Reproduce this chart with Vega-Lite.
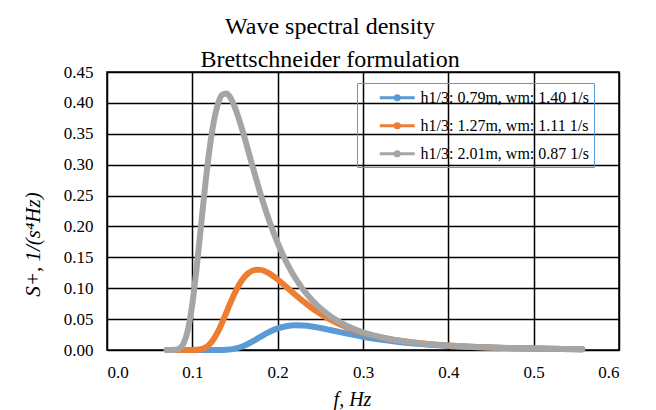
{
  "$schema": "https://vega.github.io/schema/vega-lite/v6.json",
  "autosize": {"type": "none"},
  "padding": {"left": 107, "top": 72, "right": 37, "bottom": 60},
  "width": 512,
  "height": 278,
  "background": "white",
  "title": {
    "text": ["Wave spectral density", "Brettschneider formulation"],
    "font": "Liberation Serif",
    "fontSize": 24,
    "fontWeight": "normal",
    "color": "black",
    "anchor": "middle",
    "frame": "group",
    "dx": -33,
    "dy": 3,
    "lineHeight": 33,
    "offset": -6
  },
  "data": {
    "values": [
      {"f": 0.07, "S": 0, "series": "h1/3: 0.79m, wm: 1.40 1/s"},
      {"f": 0.09, "S": 0, "series": "h1/3: 0.79m, wm: 1.40 1/s"},
      {"f": 0.11, "S": 0, "series": "h1/3: 0.79m, wm: 1.40 1/s"},
      {"f": 0.12, "S": 0, "series": "h1/3: 0.79m, wm: 1.40 1/s"},
      {"f": 0.13, "S": 0.00004, "series": "h1/3: 0.79m, wm: 1.40 1/s"},
      {"f": 0.14, "S": 0.0005, "series": "h1/3: 0.79m, wm: 1.40 1/s"},
      {"f": 0.15, "S": 0.0023, "series": "h1/3: 0.79m, wm: 1.40 1/s"},
      {"f": 0.16, "S": 0.0066, "series": "h1/3: 0.79m, wm: 1.40 1/s"},
      {"f": 0.17, "S": 0.0135, "series": "h1/3: 0.79m, wm: 1.40 1/s"},
      {"f": 0.18, "S": 0.0215, "series": "h1/3: 0.79m, wm: 1.40 1/s"},
      {"f": 0.19, "S": 0.0291, "series": "h1/3: 0.79m, wm: 1.40 1/s"},
      {"f": 0.20, "S": 0.0349, "series": "h1/3: 0.79m, wm: 1.40 1/s"},
      {"f": 0.21, "S": 0.0384, "series": "h1/3: 0.79m, wm: 1.40 1/s"},
      {"f": 0.22, "S": 0.0399, "series": "h1/3: 0.79m, wm: 1.40 1/s"},
      {"f": 0.23, "S": 0.0395, "series": "h1/3: 0.79m, wm: 1.40 1/s"},
      {"f": 0.24, "S": 0.0380, "series": "h1/3: 0.79m, wm: 1.40 1/s"},
      {"f": 0.25, "S": 0.0356, "series": "h1/3: 0.79m, wm: 1.40 1/s"},
      {"f": 0.26, "S": 0.0328, "series": "h1/3: 0.79m, wm: 1.40 1/s"},
      {"f": 0.27, "S": 0.0299, "series": "h1/3: 0.79m, wm: 1.40 1/s"},
      {"f": 0.28, "S": 0.0269, "series": "h1/3: 0.79m, wm: 1.40 1/s"},
      {"f": 0.30, "S": 0.0215, "series": "h1/3: 0.79m, wm: 1.40 1/s"},
      {"f": 0.32, "S": 0.0170, "series": "h1/3: 0.79m, wm: 1.40 1/s"},
      {"f": 0.34, "S": 0.0134, "series": "h1/3: 0.79m, wm: 1.40 1/s"},
      {"f": 0.36, "S": 0.0105, "series": "h1/3: 0.79m, wm: 1.40 1/s"},
      {"f": 0.40, "S": 0.0066, "series": "h1/3: 0.79m, wm: 1.40 1/s"},
      {"f": 0.45, "S": 0.0039, "series": "h1/3: 0.79m, wm: 1.40 1/s"},
      {"f": 0.50, "S": 0.0023, "series": "h1/3: 0.79m, wm: 1.40 1/s"},
      {"f": 0.557, "S": 0.0014, "series": "h1/3: 0.79m, wm: 1.40 1/s"},
      {"f": 0.07, "S": 0, "series": "h1/3: 1.27m, wm: 1.11 1/s"},
      {"f": 0.08, "S": 0, "series": "h1/3: 1.27m, wm: 1.11 1/s"},
      {"f": 0.09, "S": 0, "series": "h1/3: 1.27m, wm: 1.11 1/s"},
      {"f": 0.10, "S": 0.00004, "series": "h1/3: 1.27m, wm: 1.11 1/s"},
      {"f": 0.105, "S": 0.0003, "series": "h1/3: 1.27m, wm: 1.11 1/s"},
      {"f": 0.11, "S": 0.0012, "series": "h1/3: 1.27m, wm: 1.11 1/s"},
      {"f": 0.115, "S": 0.0037, "series": "h1/3: 1.27m, wm: 1.11 1/s"},
      {"f": 0.12, "S": 0.0089, "series": "h1/3: 1.27m, wm: 1.11 1/s"},
      {"f": 0.125, "S": 0.0175, "series": "h1/3: 1.27m, wm: 1.11 1/s"},
      {"f": 0.13, "S": 0.0296, "series": "h1/3: 1.27m, wm: 1.11 1/s"},
      {"f": 0.135, "S": 0.0446, "series": "h1/3: 1.27m, wm: 1.11 1/s"},
      {"f": 0.14, "S": 0.0611, "series": "h1/3: 1.27m, wm: 1.11 1/s"},
      {"f": 0.145, "S": 0.0776, "series": "h1/3: 1.27m, wm: 1.11 1/s"},
      {"f": 0.15, "S": 0.0929, "series": "h1/3: 1.27m, wm: 1.11 1/s"},
      {"f": 0.155, "S": 0.1060, "series": "h1/3: 1.27m, wm: 1.11 1/s"},
      {"f": 0.16, "S": 0.1163, "series": "h1/3: 1.27m, wm: 1.11 1/s"},
      {"f": 0.165, "S": 0.1236, "series": "h1/3: 1.27m, wm: 1.11 1/s"},
      {"f": 0.17, "S": 0.1281, "series": "h1/3: 1.27m, wm: 1.11 1/s"},
      {"f": 0.175, "S": 0.1300, "series": "h1/3: 1.27m, wm: 1.11 1/s"},
      {"f": 0.18, "S": 0.1297, "series": "h1/3: 1.27m, wm: 1.11 1/s"},
      {"f": 0.185, "S": 0.1275, "series": "h1/3: 1.27m, wm: 1.11 1/s"},
      {"f": 0.19, "S": 0.1240, "series": "h1/3: 1.27m, wm: 1.11 1/s"},
      {"f": 0.20, "S": 0.1141, "series": "h1/3: 1.27m, wm: 1.11 1/s"},
      {"f": 0.21, "S": 0.1023, "series": "h1/3: 1.27m, wm: 1.11 1/s"},
      {"f": 0.22, "S": 0.0902, "series": "h1/3: 1.27m, wm: 1.11 1/s"},
      {"f": 0.23, "S": 0.0786, "series": "h1/3: 1.27m, wm: 1.11 1/s"},
      {"f": 0.24, "S": 0.0680, "series": "h1/3: 1.27m, wm: 1.11 1/s"},
      {"f": 0.25, "S": 0.0586, "series": "h1/3: 1.27m, wm: 1.11 1/s"},
      {"f": 0.26, "S": 0.0504, "series": "h1/3: 1.27m, wm: 1.11 1/s"},
      {"f": 0.28, "S": 0.0373, "series": "h1/3: 1.27m, wm: 1.11 1/s"},
      {"f": 0.30, "S": 0.0277, "series": "h1/3: 1.27m, wm: 1.11 1/s"},
      {"f": 0.33, "S": 0.0180, "series": "h1/3: 1.27m, wm: 1.11 1/s"},
      {"f": 0.36, "S": 0.0120, "series": "h1/3: 1.27m, wm: 1.11 1/s"},
      {"f": 0.40, "S": 0.0073, "series": "h1/3: 1.27m, wm: 1.11 1/s"},
      {"f": 0.45, "S": 0.0041, "series": "h1/3: 1.27m, wm: 1.11 1/s"},
      {"f": 0.50, "S": 0.0025, "series": "h1/3: 1.27m, wm: 1.11 1/s"},
      {"f": 0.557, "S": 0.0014, "series": "h1/3: 1.27m, wm: 1.11 1/s"},
      {"f": 0.07, "S": 0, "series": "h1/3: 2.01m, wm: 0.87 1/s"},
      {"f": 0.075, "S": 0.00002, "series": "h1/3: 2.01m, wm: 0.87 1/s"},
      {"f": 0.08, "S": 0.0003, "series": "h1/3: 2.01m, wm: 0.87 1/s"},
      {"f": 0.085, "S": 0.0025, "series": "h1/3: 2.01m, wm: 0.87 1/s"},
      {"f": 0.09, "S": 0.0114, "series": "h1/3: 2.01m, wm: 0.87 1/s"},
      {"f": 0.095, "S": 0.0339, "series": "h1/3: 2.01m, wm: 0.87 1/s"},
      {"f": 0.10, "S": 0.0746, "series": "h1/3: 2.01m, wm: 0.87 1/s"},
      {"f": 0.105, "S": 0.1321, "series": "h1/3: 2.01m, wm: 0.87 1/s"},
      {"f": 0.11, "S": 0.1988, "series": "h1/3: 2.01m, wm: 0.87 1/s"},
      {"f": 0.115, "S": 0.2655, "series": "h1/3: 2.01m, wm: 0.87 1/s"},
      {"f": 0.12, "S": 0.3237, "series": "h1/3: 2.01m, wm: 0.87 1/s"},
      {"f": 0.125, "S": 0.3686, "series": "h1/3: 2.01m, wm: 0.87 1/s"},
      {"f": 0.13, "S": 0.3981, "series": "h1/3: 2.01m, wm: 0.87 1/s"},
      {"f": 0.135, "S": 0.4130, "series": "h1/3: 2.01m, wm: 0.87 1/s"},
      {"f": 0.14, "S": 0.4153, "series": "h1/3: 2.01m, wm: 0.87 1/s"},
      {"f": 0.145, "S": 0.4075, "series": "h1/3: 2.01m, wm: 0.87 1/s"},
      {"f": 0.15, "S": 0.3925, "series": "h1/3: 2.01m, wm: 0.87 1/s"},
      {"f": 0.16, "S": 0.3494, "series": "h1/3: 2.01m, wm: 0.87 1/s"},
      {"f": 0.17, "S": 0.3001, "series": "h1/3: 2.01m, wm: 0.87 1/s"},
      {"f": 0.18, "S": 0.2523, "series": "h1/3: 2.01m, wm: 0.87 1/s"},
      {"f": 0.19, "S": 0.2097, "series": "h1/3: 2.01m, wm: 0.87 1/s"},
      {"f": 0.20, "S": 0.1732, "series": "h1/3: 2.01m, wm: 0.87 1/s"},
      {"f": 0.21, "S": 0.1428, "series": "h1/3: 2.01m, wm: 0.87 1/s"},
      {"f": 0.22, "S": 0.1178, "series": "h1/3: 2.01m, wm: 0.87 1/s"},
      {"f": 0.24, "S": 0.0808, "series": "h1/3: 2.01m, wm: 0.87 1/s"},
      {"f": 0.26, "S": 0.0562, "series": "h1/3: 2.01m, wm: 0.87 1/s"},
      {"f": 0.28, "S": 0.0398, "series": "h1/3: 2.01m, wm: 0.87 1/s"},
      {"f": 0.30, "S": 0.0287, "series": "h1/3: 2.01m, wm: 0.87 1/s"},
      {"f": 0.33, "S": 0.0182, "series": "h1/3: 2.01m, wm: 0.87 1/s"},
      {"f": 0.36, "S": 0.0119, "series": "h1/3: 2.01m, wm: 0.87 1/s"},
      {"f": 0.40, "S": 0.0071, "series": "h1/3: 2.01m, wm: 0.87 1/s"},
      {"f": 0.45, "S": 0.0040, "series": "h1/3: 2.01m, wm: 0.87 1/s"},
      {"f": 0.50, "S": 0.0024, "series": "h1/3: 2.01m, wm: 0.87 1/s"},
      {"f": 0.557, "S": 0.0014, "series": "h1/3: 2.01m, wm: 0.87 1/s"}
    ]
  },
  "mark": {"type": "line", "strokeWidth": 6, "strokeCap": "round", "strokeJoin": "round", "interpolate": "monotone"},
  "encoding": {
    "x": {
      "field": "f", "type": "quantitative",
      "scale": {"domain": [0, 0.6], "nice": false},
      "axis": {
        "values": [0, 0.1, 0.2, 0.3, 0.4, 0.5, 0.6],
        "format": ".1f",
        "title": "f, Hz",
        "titleFontStyle": "italic",
        "titleX": 245,
        "titleY": 55,
        "titleBaseline": "alphabetic",
        "labelPadding": 14
      }
    },
    "y": {
      "field": "S", "type": "quantitative",
      "scale": {"domain": [0, 0.45], "nice": false},
      "axis": {
        "values": [0, 0.05, 0.1, 0.15, 0.2, 0.25, 0.3, 0.35, 0.4, 0.45],
        "format": ".2f",
        "title": "S+, 1/(s⁴Hz)",
        "titleFontStyle": "italic",
        "titleFontSize": 21,
        "titleAngle": -90,
        "titleX": -68,
        "titleY": 172,
        "titleAlign": "center",
        "titleBaseline": "alphabetic",
        "labelPadding": 14
      }
    },
    "color": {
      "field": "series", "type": "nominal",
      "scale": {
        "domain": ["h1/3: 0.79m, wm: 1.40 1/s", "h1/3: 1.27m, wm: 1.11 1/s", "h1/3: 2.01m, wm: 0.87 1/s"],
        "range": ["#5B9BD5", "#ED7D31", "#A5A5A5"]
      },
      "legend": {
        "title": null,
        "orient": "none",
        "legendX": 250,
        "legendY": 11,
        "strokeColor": "#5B9BD5",
        "padding": 4.25,
        "rowPadding": 9,
        "symbolOffset": 25.5,
        "symbolType": "M-2,0H2M-0.24,0A0.24,0.24,0,1,1,0.24,0A0.24,0.24,0,1,1,-0.24,0",
        "symbolSize": 306,
        "symbolStrokeWidth": 3,
        "labelOffset": 12.75,
        "labelFont": "Liberation Serif",
        "labelFontSize": 16,
        "labelColor": "black",
        "labelLimit": 400
      }
    }
  },
  "config": {
    "view": {"stroke": "black", "strokeWidth": 1.5},
    "axis": {
      "domain": false,
      "ticks": false,
      "grid": true,
      "gridColor": "black",
      "gridWidth": 1.5,
      "gridOpacity": 1,
      "labelFont": "Liberation Serif",
      "labelFontSize": 17,
      "labelColor": "black",
      "titleFont": "Liberation Serif",
      "titleFontSize": 20,
      "titleFontWeight": "normal",
      "titleColor": "black"
    }
  }
}
